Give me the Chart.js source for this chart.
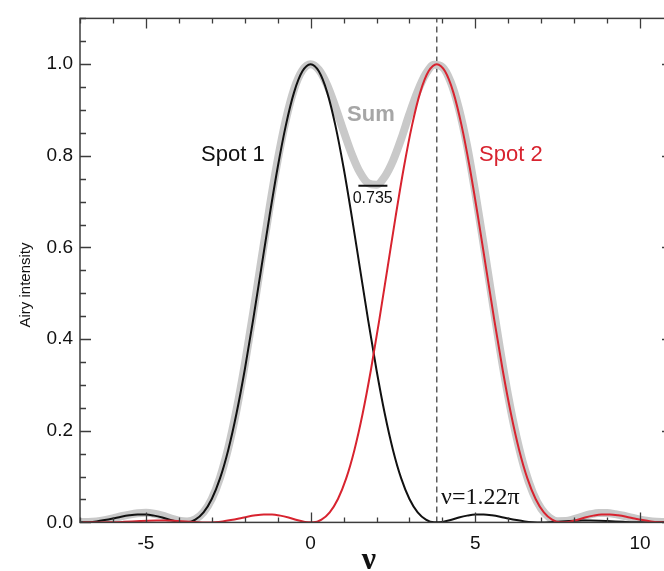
<!DOCTYPE html>
<html>
<head>
<meta charset="utf-8">
<script src="https://cdn.jsdelivr.net/npm/chart.js@4.4.1/dist/chart.umd.min.js"></script>
<style>
  html, body { margin: 0; padding: 0; background: #ffffff; overflow: hidden; }
  #wrap { position: absolute; left: 0; top: 0; width: 690px; height: 571px; }
</style>
</head>
<body>
<div id="wrap"><canvas id="c" width="690" height="571"></canvas></div>
<script>
// ---- data ----
const xGrid = [-7.00,-6.75,-6.50,-6.25,-6.00,-5.75,-5.50,-5.25,-5.00,-4.75,-4.50,-4.25,-4.00,-3.75,-3.50,-3.25,
  -3.00,-2.75,-2.50,-2.25,-2.00,-1.75,-1.50,-1.25,-1.00,-0.75,-0.50,-0.25,0.00,
  0.25,0.50,0.75,1.00,1.25,1.50,1.75,2.00,2.25,2.50,2.75,3.00,3.25,3.50,3.75,4.00,4.25,4.50,4.75,5.00,
  5.25,5.50,5.75,6.00,6.25,6.50,6.75,7.00,7.25,7.50,7.75,8.00,8.25,8.50,8.75,9.00,9.25,9.50,9.75,10.00,
  10.25,10.50,10.75];
const spot1 = [0.0000,0.0006,0.0022,0.0050,0.0085,0.0124,0.0154,0.0171,0.0172,0.0148,0.0106,0.0052,0.0011,0.0003,0.0062,0.0220,
  0.0511,0.0960,0.1582,0.2376,0.3326,0.4397,0.5534,0.6675,0.7746,0.8671,0.9391,0.9844,1.0000,
  0.9844,0.9391,0.8671,0.7746,0.6675,0.5534,0.4397,0.3326,0.2376,0.1582,0.0960,0.0511,0.0220,0.0062,0.0003,0.0011,
  0.0052,0.0106,0.0148,0.0172,0.0171,0.0154,0.0124,0.0085,0.0050,0.0022,0.0006,0.0000,
  0.0004,0.0013,0.0025,0.0034,0.0040,0.0041,0.0038,0.0030,0.0020,0.0012,0.0005,0.0001,0.0000,0.0002,0.0006];
const spot2X = [-6.92,-6.67,-6.42,-6.17,-5.92,-5.67,-5.42,-5.17,-4.92,-4.67,-4.42,-4.17,-3.92,-3.67,-3.42,-3.17,
  -2.92,-2.67,-2.42,-2.17,-1.92,-1.67,-1.42,-1.17,-0.92,-0.67,-0.42,-0.17,0.08,0.33,0.58,0.83,1.08,1.33,1.58,1.83,
  2.08,2.33,2.58,2.83,3.08,3.33,3.58,3.83,
  4.08,4.33,4.58,4.83,5.08,5.33,5.58,5.83,6.08,6.33,6.58,6.83,7.08,7.33,7.58,7.83,8.08,8.33,8.58,8.83,
  9.08,9.33,9.58,9.83,10.08,10.33,10.58,10.83];
const spot2 = [0.0006,0.0002,0.0000,0.0001,0.0005,0.0012,0.0020,0.0030,0.0038,0.0041,0.0040,0.0034,0.0025,0.0013,0.0004,0.0000,
  0.0006,0.0022,0.0050,0.0085,0.0124,0.0154,0.0171,0.0172,0.0148,0.0106,0.0052,0.0011,0.0003,0.0062,0.0220,0.0511,
  0.0960,0.1582,0.2376,0.3326,0.4397,0.5534,0.6675,0.7746,0.8671,0.9391,0.9844,1.0000,
  0.9844,0.9391,0.8671,0.7746,0.6675,0.5534,0.4397,0.3326,0.2376,0.1582,0.0960,0.0511,0.0220,0.0062,0.0003,0.0011,
  0.0052,0.0106,0.0148,0.0172,0.0171,0.0154,0.0124,0.0085,0.0050,0.0022,0.0006,0.0000];
const sumCurve = [0.0007,0.0009,0.0022,0.0050,0.0089,0.0134,0.0171,0.0198,0.0208,0.0189,0.0146,0.0088,0.0039,0.0020,0.0069,0.0220,
  0.0514,0.0976,0.1623,0.2450,0.3438,0.4542,0.5702,0.6850,0.7904,0.8792,0.9461,0.9866,1.0000,
  0.9878,0.9548,0.9072,0.8543,0.8037,0.7635,0.7401,0.7369,0.7546,0.7892,0.8370,0.8916,0.9410,0.9793,0.9987,0.9939,
  0.9619,0.9036,0.8218,0.7192,0.6071,0.4914,0.3779,0.2746,0.1866,0.1160,0.0642,0.0297,
  0.0104,0.0026,0.0028,0.0072,0.0129,0.0177,0.0204,0.0204,0.0181,0.0145,0.0102,0.0062,0.0030,0.0012,0.0007];
const sumMinX = [1.45, 2.33];
const sumMinY = [0.735, 0.735];
const sepX = [3.83, 3.83];
const sepY = [0.0, 1.1];
const xLabeled = [-5, 0, 5, 10];
const yLabeled = ['0.0','0.2','0.4','0.6','0.8','1.0'];
const seriesNames = ['Sum', 'Spot 1', 'Spot 2'];
const minLabel = '0.735';
const sepLabel = 'ν=1.22π';
const xTitle = 'ν';
const yTitle = 'Airy intensity';

// ---- styles ----
const C_SUM = '#c9c9c9', C_SUMTXT = '#a6a6a6', C_S1 = '#111111', C_S2 = '#d8232f', C_AX = '#3c3c3c';

const pts = (xs, ys) => xs.map((x, i) => ({x: x, y: ys[i]}));

const framePlugin = {
  id: 'frame',
  afterDatasetsDraw(chart) {
    const {ctx, chartArea: a, scales: {x, y}} = chart;
    ctx.save();
    ctx.strokeStyle = C_AX;
    ctx.lineWidth = 1.5;
    ctx.strokeRect(a.left, a.top, a.right - a.left, a.bottom - a.top);
    ctx.lineWidth = 1.3;
    ctx.beginPath();
    x.ticks.forEach(t => {
      const px = Math.round(x.getPixelForValue(t.value)) + 0.5;
      const major = Math.abs(t.value % 5) < 1e-6;
      const len = major ? 10 : 5;
      ctx.moveTo(px, a.bottom); ctx.lineTo(px, a.bottom - len);
      ctx.moveTo(px, a.top); ctx.lineTo(px, a.top + len);
    });
    y.ticks.forEach(t => {
      const py = Math.round(y.getPixelForValue(t.value)) + 0.5;
      const major = Math.round(t.value * 100) % 20 === 0;
      const len = major ? 11 : 6;
      ctx.moveTo(a.left, py); ctx.lineTo(a.left + len, py);
      ctx.moveTo(a.right, py); ctx.lineTo(a.right - len, py);
    });
    ctx.stroke();

    // annotations
    const X = v => x.getPixelForValue(v), Y = v => y.getPixelForValue(v);
    ctx.textAlign = 'center';
    ctx.textBaseline = 'middle';
    ctx.font = '22px "Liberation Sans", Arial, sans-serif';
    ctx.fillStyle = C_S1;
    ctx.fillText(seriesNames[1], X(-2.36), Y(0.802));
    ctx.fillStyle = C_S2;
    ctx.fillText(seriesNames[2], X(6.08), Y(0.802));
    ctx.font = 'bold 22px "Liberation Sans", Arial, sans-serif';
    ctx.fillStyle = C_SUMTXT;
    ctx.fillText(seriesNames[0], X(1.83), Y(0.889));
    ctx.font = '16px "Liberation Sans", Arial, sans-serif';
    ctx.fillStyle = '#111';
    ctx.fillText(minLabel, X(1.885), Y(0.707));
    ctx.textAlign = 'left';
    ctx.textBaseline = 'alphabetic';
    ctx.font = '24px "Liberation Serif", "Times New Roman", serif';
    ctx.fillText(sepLabel, X(3.96), Y(0.04));

    // axis titles
    ctx.textAlign = 'center';
    ctx.font = 'bold 32px "Liberation Serif", "DejaVu Serif", serif';
    ctx.fillText(xTitle, 369, 569);
    ctx.save();
    ctx.translate(26, 285);
    ctx.rotate(-Math.PI / 2);
    ctx.textBaseline = 'middle';
    ctx.font = '15px "Liberation Sans", Arial, sans-serif';
    ctx.fillText(yTitle, 0, 0);
    ctx.restore();
    ctx.restore();
  }
};

new Chart(document.getElementById('c'), {
  type: 'line',
  data: {
    datasets: [
      {label: seriesNames[0], data: pts(xGrid, sumCurve), borderColor: C_SUM, borderWidth: 8,
       pointRadius: 0, cubicInterpolationMode: 'monotone', fill: false, order: 4},
      {label: seriesNames[1], data: pts(xGrid, spot1), borderColor: C_S1, borderWidth: 2,
       pointRadius: 0, cubicInterpolationMode: 'monotone', fill: false, order: 3},
      {label: seriesNames[2], data: pts(spot2X, spot2), borderColor: C_S2, borderWidth: 2,
       pointRadius: 0, cubicInterpolationMode: 'monotone', fill: false, order: 2},
      {label: 'min', data: pts(sumMinX, sumMinY), borderColor: '#111', borderWidth: 2,
       pointRadius: 0, tension: 0, fill: false, order: 1},
      {label: 'sep', data: pts(sepX, sepY), borderColor: '#444', borderWidth: 1.3, borderDash: [6, 4],
       pointRadius: 0, tension: 0, fill: false, order: 5}
    ]
  },
  options: {
    responsive: false,
    animation: false,
    devicePixelRatio: 1,
    layout: {padding: {top: 14, right: 17, left: 0, bottom: 0}},
    plugins: {legend: {display: false}, tooltip: {enabled: false}},
    scales: {
      x: {
        type: 'linear', min: -7, max: 11,
        grid: {display: false, drawTicks: false},
        border: {display: false},
        afterFit: s => { s.height = 48.6; },
        ticks: {
          stepSize: 1, autoSkip: false, maxRotation: 0, padding: 10, color: '#111',
          font: {family: '"Liberation Sans", Arial, sans-serif', size: 19},
          callback: v => (xLabeled.includes(v) ? String(v) : '')
        }
      },
      y: {
        type: 'linear', min: 0, max: 1.1,
        grid: {display: false, drawTicks: false},
        border: {display: false},
        afterFit: s => { s.width = 80; },
        ticks: {
          stepSize: 0.05, autoSkip: false, padding: 7, color: '#111',
          font: {family: '"Liberation Sans", Arial, sans-serif', size: 19},
          callback: v => { const k = Math.round(v * 100); return k % 20 === 0 ? yLabeled[k / 20] : ''; }
        }
      }
    }
  },
  plugins: [framePlugin]
});
</script>
</body>
</html>
